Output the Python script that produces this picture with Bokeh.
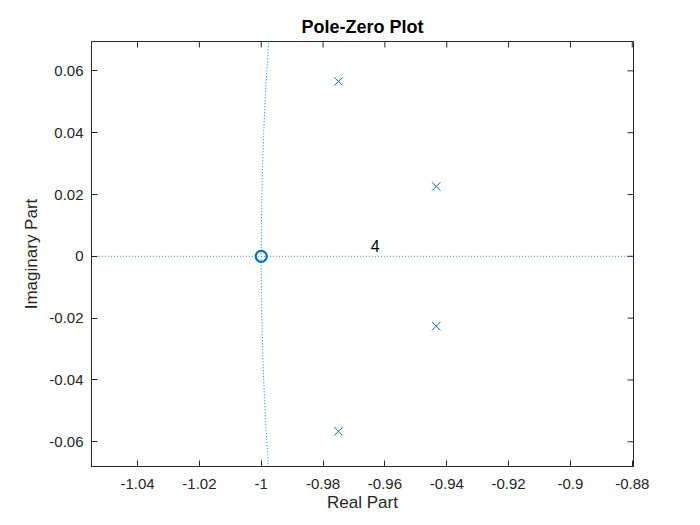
import numpy as np
from bokeh.plotting import figure
from bokeh.models import FixedTicker, Range1d, Title, Label
from bokeh.embed import file_html
from bokeh.resources import INLINE

# Data
pole_re = [-0.975, -0.9434, -0.9434, -0.975]
pole_im = [0.0566, 0.0226, -0.0226, -0.0566]
zero_re = [-1.0]
zero_im = [0.0]
zero_mult = "4"
x_ticks = [-1.04, -1.02, -1.0, -0.98, -0.96, -0.94, -0.92, -0.9, -0.88]
x_tick_labels = ["-1.04", "-1.02", "-1", "-0.98", "-0.96", "-0.94", "-0.92", "-0.9", "-0.88"]
y_ticks = [-0.06, -0.04, -0.02, 0.0, 0.02, 0.04, 0.06]
y_tick_labels = ["-0.06", "-0.04", "-0.02", "0", "0.02", "0.04", "0.06"]
x_title = "Real Part"
y_title = "Imaginary Part"

X0, X1 = -1.0549, -0.8796
Y0, Y1 = -0.068, 0.0695

FONT = "Liberation Sans"
BLUE = "#0072BD"
TXT = "#262626"

W, H = 690, 517
ML, MR, MT, MB = 91, 57, 41, 51

p = figure(width=W, height=H, output_backend="svg", toolbar_location=None,
           x_range=Range1d(X0, X1), y_range=Range1d(Y0, Y1),
           min_border_left=ML, min_border_right=MR, min_border_top=MT, min_border_bottom=MB,
           x_axis_label=x_title, y_axis_label=y_title)
p.grid.visible = False
p.background_fill_color = "white"
p.border_fill_color = "white"
p.outline_line_color = TXT
p.outline_line_width = 1

p.title = Title(text="Pole-Zero Plot", align="center", text_font=FONT,
                text_font_size="18px", text_font_style="bold", text_color="black")

for ax in (p.xaxis[0], p.yaxis[0]):
    ax.axis_line_color = TXT
    ax.major_tick_in = 6
    ax.major_tick_out = 0
    ax.minor_tick_line_color = None
    ax.major_tick_line_color = TXT
    ax.major_label_text_font = FONT
    ax.major_label_text_font_size = "15px"
    ax.major_label_text_color = TXT
    ax.axis_label_text_font = FONT
    ax.axis_label_text_font_size = "17px"
    ax.axis_label_text_font_style = "normal"
    ax.axis_label_text_color = TXT

p.xaxis[0].ticker = FixedTicker(ticks=x_ticks)
p.xaxis[0].major_label_overrides = {t: l for t, l in zip(x_ticks, x_tick_labels)}
p.yaxis[0].ticker = FixedTicker(ticks=y_ticks)
p.yaxis[0].major_label_overrides = {t: l for t, l in zip(y_ticks, y_tick_labels)}
p.xaxis[0].major_label_standoff = 12
p.xaxis[0].axis_label_standoff = 1
p.yaxis[0].major_label_standoff = 8
p.yaxis[0].axis_label_standoff = 5

# inward ticks on the top and right edges (half of each dash is clipped by the frame)
p.scatter(x_ticks, [Y1] * len(x_ticks), marker="dash", angle=np.pi / 2, size=12,
          line_color=TXT, line_width=1)
p.scatter([X1] * len(y_ticks), y_ticks, marker="dash", size=12,
          line_color=TXT, line_width=1)

# unit circle and real axis
theta = np.linspace(0, 2 * np.pi, 20000)
p.line(np.cos(theta), np.sin(theta), line_color=BLUE, line_dash="1 2", line_width=1)
p.line([-1.2, -0.8], [0, 0], line_color=BLUE, line_dash="1 2", line_width=1, line_alpha=0.8)

# poles and zero
p.scatter(pole_re, pole_im, marker="x", size=12, line_color=BLUE, line_width=1)
p.scatter(zero_re, zero_im, marker="circle", size=11, fill_color=None,
          line_color=BLUE, line_width=2.2)
p.add_layout(Label(x=zero_re[0] + 0.0354, y=zero_im[0] + 0.0013, text=zero_mult,
                   text_font=FONT, text_font_size="16px", text_color="black"))

open("out.html", "w").write(file_html(p, INLINE))
